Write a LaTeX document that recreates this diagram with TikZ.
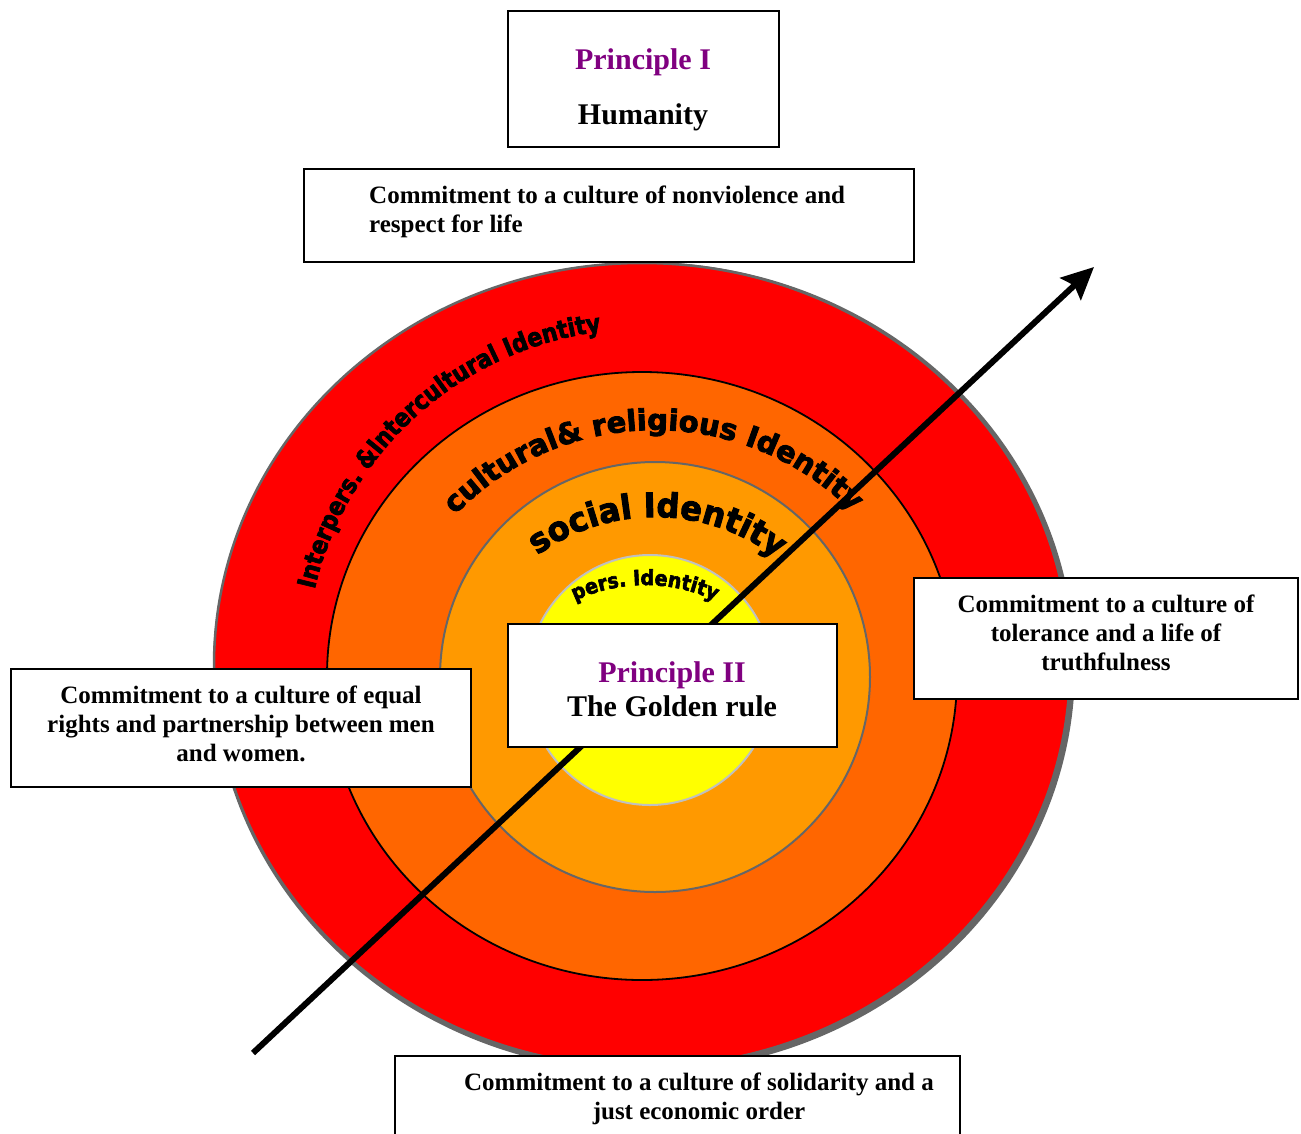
\documentclass[tikz,border=0pt]{standalone}
\usepackage{graphicx}
\usepackage{fontspec}
\setmainfont{Liberation Serif}
\newfontfamily\idfont{DejaVu Sans}[FakeBold=3]
\usetikzlibrary{arrows.meta}
\definecolor{ringred}{HTML}{FF0000}
\definecolor{ringorange}{HTML}{FF6600}
\definecolor{ringamber}{HTML}{FF9900}
\definecolor{ringyellow}{HTML}{FFFF00}
\definecolor{edgegray}{HTML}{666666}
\definecolor{edgelight}{HTML}{C0C0C0}
\definecolor{ppurple}{HTML}{800080}
\newcommand\boxfont{\bfseries\fontsize{25pt}{29pt}\selectfont}
\newcommand\bigfont{\bfseries\fontsize{30pt}{34pt}\selectfont}
\newcommand\ctrlines[1]{\vtop{\halign{\hfil##\hfil\cr#1\crcr}}}
\newcommand\leftlines[1]{\vtop{\halign{##\hfil\cr#1\crcr}}}
% #1 centre, #2 radius, #3 start angle, #4 font size, #5 vertical stretch, #6 list char/centre offset (em)
\newcommand\ringlabel[6]{%
  \foreach \ch/\cc in {#6}{%
    \pgfmathsetmacro\ringmid{#3-(\cc*#4/#2)*57.29578}%
    \node[font={\idfont\bfseries\fontsize{#4pt}{#4pt}\selectfont},inner sep=0pt,anchor=base,rotate=\ringmid-90] at ([shift={#1}]\ringmid:#2) {\scalebox{1}[#5]{\ch}};
  }%
}
\begin{document}
\begin{tikzpicture}[x=1pt,y=1pt,
  box/.style={draw=black,line width=2pt,fill=white,inner sep=0pt},
  boxtext/.style={font=\boxfont,inner sep=0pt,anchor=base},
  bigtext/.style={font=\bigfont,inner sep=0pt,anchor=base},
  ringedge/.style={line width=#1},
  arrowline/.style={line width=6pt,-{Stealth[length=32pt,width=30pt,inset=5pt]}}]
\useasboundingbox (0,0) rectangle (1301,-1133);
\fill[white] (0,0) rectangle (1301,-1133);

% rings
\fill[edgegray] (644,-667) ellipse[x radius=431,y radius=405];
\draw[fill=ringred,draw=edgegray,ringedge=2.5pt] (642,-665) ellipse[x radius=428,y radius=402];
\draw[fill=ringorange,draw=black,ringedge=1.8pt] (642,-676) ellipse[x radius=315,y radius=304];
\draw[fill=ringamber,draw=edgegray,ringedge=2pt] (655,-677) circle[radius=215];
\draw[fill=ringyellow,draw=edgelight,ringedge=2pt] (650,-680) ellipse[x radius=123,y radius=125];

% curved labels
\ringlabel{(642,-665)}{336}{167}{22}{1.15}{I/0.186,n/0.728,t/1.323,e/1.901,r/2.4865,p/3.091,e/3.788,r/4.3735,s/4.9175,./5.405,\&/6.379,I/7.001,n/7.543,t/8.138,e/8.716,r/9.3015,c/9.8445,u/10.497,l/11.0245,t/11.435,u/12.030,r/12.6325,a/13.2165,l/13.7255,I/14.431,d/14.975,e/15.672,n/16.367,t/16.962,i/17.3725,t/17.783,y/18.348}
\ringlabel{(655,-708)}{278}{136}{29}{1.0}{c/0.2965,u/0.949,l/1.4765,t/1.887,u/2.482,r/3.0845,a/3.6685,l/4.1775,\&/4.785,r/5.8155,e/6.401,l/6.9115,i/7.2545,g/7.784,i/8.3135,o/8.8285,u/9.528,s/10.1815,I/11.013,d/11.557,e/12.254,n/12.949,t/13.544,i/13.9545,t/14.365,y/14.930}
\ringlabel{(655,-717)}{200}{126}{32}{1.05}{s/0.2975,o/0.9385,c/1.5785,i/2.0465,a/2.5555,l/3.0645,I/3.770,d/4.314,e/5.011,n/5.706,t/6.301,i/6.7115,t/7.122,y/7.687}
\ringlabel{(645,-748)}{163}{115.5}{19}{1.1}{p/0.358,e/1.055,r/1.6405,s/2.1845,./2.672,I/3.396,d/3.940,e/4.637,n/5.332,t/5.927,i/6.3375,t/6.748,y/7.313}

% arrow
\coordinate (atail) at (253,-1053);
\coordinate (ahead) at (1094,-267);
\draw[arrowline] (atail) -- (ahead);

% boxes
\node[box,minimum width=271pt,minimum height=136pt] (p1box) at (643.5,-79) {};
\node[bigtext,text=ppurple] (p1t) at (643,-69) {Principle I};
\node[bigtext] (p1h) at (643,-124) {Humanity};

\node[box,minimum width=610pt,minimum height=93pt] (nvbox) at (609,-215.5) {};
\node[boxtext,anchor=base west] (nvtext) at (369,-203) {\leftlines{Commitment to a culture of nonviolence and\cr respect for life}};

\node[box,minimum width=329pt,minimum height=123pt] (p2box) at (672.5,-685.5) {};
\node[bigtext,text=ppurple] (p2t) at (672,-682) {Principle II};
\node[bigtext] (p2g) at (672,-716) {The Golden rule};

\node[box,minimum width=384pt,minimum height=121pt] (tolbox) at (1106,-638.5) {};
\node[boxtext] (toltext) at (1106,-612) {\ctrlines{Commitment to a culture of\cr tolerance and a life of\cr truthfulness}};

\node[box,minimum width=460pt,minimum height=118pt] (eqbox) at (241,-728) {};
\node[boxtext] (eqtext) at (241,-703) {\ctrlines{Commitment to a culture of equal\cr rights and partnership between men\cr and women.}};

\node[box,minimum width=565pt,minimum height=100pt] (solbox) at (677.5,-1106) {};
\node[boxtext] (soltext) at (699,-1090) {\ctrlines{Commitment to a culture of solidarity and a\cr just economic order}};
\end{tikzpicture}
\end{document}
